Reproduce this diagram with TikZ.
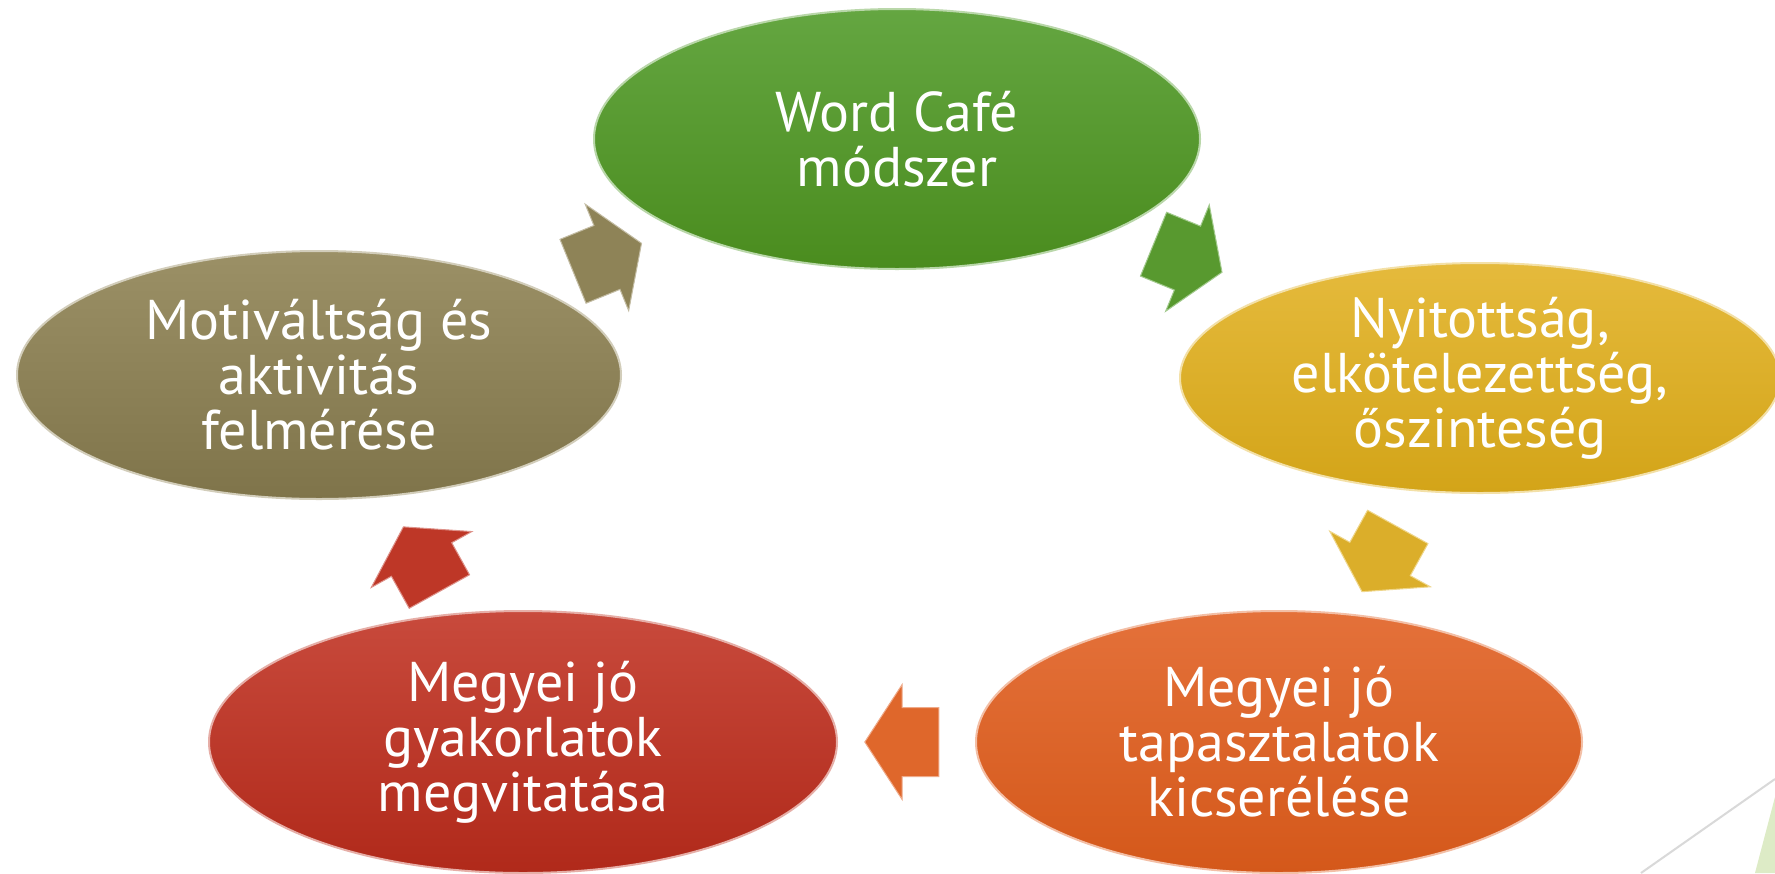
\documentclass[tikz,border=0pt]{standalone}
\usepackage{fontspec}
\setmainfont{PT Sans}
\usepackage{tikz}
\usetikzlibrary{shapes.geometric,shapes.arrows,calc}

\definecolor{cafetop}{HTML}{64A641}
\definecolor{cafebot}{HTML}{4A8C1E}
\definecolor{cafearr}{HTML}{58992F}
\definecolor{nyittop}{HTML}{E5BA3C}
\definecolor{nyitbot}{HTML}{D3A418}
\definecolor{nyitarr}{HTML}{DBAE2A}
\definecolor{tapatop}{HTML}{E4713A}
\definecolor{tapabot}{HTML}{D4581A}
\definecolor{tapaarr}{HTML}{DF672B}
\definecolor{gyaktop}{HTML}{C84A3C}
\definecolor{gyakbot}{HTML}{B0291A}
\definecolor{gyakarr}{HTML}{BE3727}
\definecolor{motitop}{HTML}{9B9066}
\definecolor{motibot}{HTML}{7F744A}
\definecolor{motiarr}{HTML}{8E8357}
\definecolor{leafgreen}{HTML}{DDEBC6}

\begin{document}
\begin{tikzpicture}
    [
      x=1pt, y=-1pt,
      stage/.style = {ellipse, inner sep=0pt, align=center, text=white,
                      font=\fontsize{56}{55}\selectfont, line width=2pt},
      turn/.style = {single arrow, midway, sloped, allow upside down, inner sep=0pt,
                     text height=34pt, text depth=34pt, minimum height=74pt,
                     single arrow head extend=23pt, single arrow tip angle=114,
                     line width=1pt, xshift=-12pt},
    ]
    \clip (0,0) rectangle (1775,873);
    \fill[white] (0,0) rectangle (1775,873);

    \node[stage, minimum width=606pt, minimum height=260pt,
          top color=cafetop, bottom color=cafebot, draw=cafetop!45!white](wcafe)
          at (897,139) {Word Café\\módszer};
    \node[stage, minimum width=600pt, minimum height=230pt,
          top color=nyittop, bottom color=nyitbot, draw=nyittop!45!white](nyit)
          at (1480,378) {Nyitottság,\\elkötelezettség,\\őszinteség};
    \node[stage, minimum width=606pt, minimum height=262pt,
          top color=tapatop, bottom color=tapabot, draw=tapatop!45!white](tapa)
          at (1279,742) {Megyei jó\\tapasztalatok\\kicserélése};
    \node[stage, minimum width=628pt, minimum height=262pt,
          top color=gyaktop, bottom color=gyakbot, draw=gyaktop!45!white](gyak)
          at (523,742) {Megyei jó\\gyakorlatok\\megvitatása};
    \node[stage, minimum width=604pt, minimum height=248pt,
          top color=motitop, bottom color=motibot, draw=motitop!45!white](moti)
          at (319,375) {Motiváltság és\\aktivitás\\felmérése};

    \path (moti.center) -- (wcafe.center) node[turn, fill=motiarr, draw=motitop!60!white] {};
    \path (wcafe.center) -- (nyit.center) node[turn, fill=cafearr, draw=cafetop!60!white] {};
    \path (nyit.center) -- (tapa.center) node[turn, fill=nyitarr, draw=nyittop!60!white] {};
    \path (tapa.center) -- (gyak.center) node[turn, fill=tapaarr, draw=tapatop!60!white] {};
    \path (gyak.center) -- (moti.center) node[turn, fill=gyakarr, draw=gyaktop!60!white] {};

    \draw[black!15, line width=2pt] (1641,873) -- (1775,779);
    \fill[leafgreen] (1775,797) -- (1755,873) -- (1775,873) -- cycle;
\end{tikzpicture}
\end{document}
